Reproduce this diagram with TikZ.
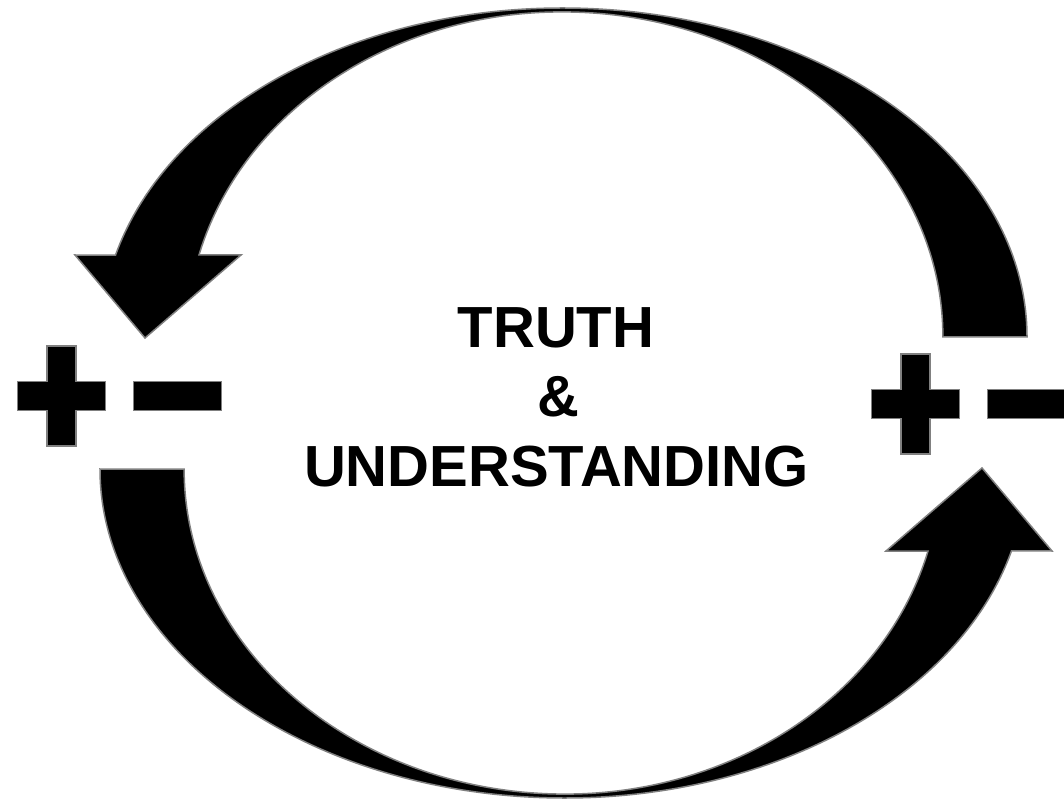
\documentclass[tikz,border=0pt]{standalone}
\usepackage{fontspec}
\setmainfont{Liberation Sans}
\usetikzlibrary{positioning}
\tikzset{
  arrowband/.style={fill=black, draw=gray, line width=1.5pt, line join=miter},
  signbar/.style={fill=black, draw=gray, line width=1.5pt},
  caption/.style={font=\fontsize{58}{70}\selectfont\bfseries,
    inner sep=0pt, anchor=base},
}

\begin{document}
\begin{tikzpicture}[x=1pt, y=1pt]
  \useasboundingbox (0,0) rectangle (1064,801);
  \fill[white] (0,0) rectangle (1064,801);

  % curved arrows (lower one is the upper one turned round)
  \foreach \ang in {0,180} {
    \filldraw[arrowband, rotate around={\ang:(563.5,398)}]
      (1027,464) arc[start angle=0, end angle=90, x radius=465pt, y radius=329pt]
      arc[start angle=90, end angle=165.6, x radius=461pt, y radius=329pt]
      -- (75,546) -- (145,463) -- (241,546) -- (199,546)
      arc[start angle=165.4, end angle=90, x radius=375pt, y radius=325pt]
      arc[start angle=90, end angle=0, x radius=381pt, y radius=325pt]
      -- cycle;
  }

  % plus and minus signs
  \foreach \px/\py in {61.3/405, 915.4/397} {
    \filldraw[signbar] (\px-14.5,\py+50) -- (\px+14.5,\py+50)
      -- (\px+14.5,\py+14.5) -- (\px+44,\py+14.5) -- (\px+44,\py-14.5)
      -- (\px+14.5,\py-14.5) -- (\px+14.5,\py-50) -- (\px-14.5,\py-50)
      -- (\px-14.5,\py-14.5) -- (\px-44,\py-14.5) -- (\px-44,\py+14.5)
      -- (\px-14.5,\py+14.5) -- cycle;
    \filldraw[signbar] (\px+72,\py-14.5) rectangle (\px+160,\py+14.5);
  }

  \node[caption] (truth) at (556,453.7) {TRUTH};
  \node[caption] (amp) at (558,384.3) {\&};
  \node[caption] (understanding) at (556.5,314.3) {UNDERSTANDING};
\end{tikzpicture}
\end{document}
